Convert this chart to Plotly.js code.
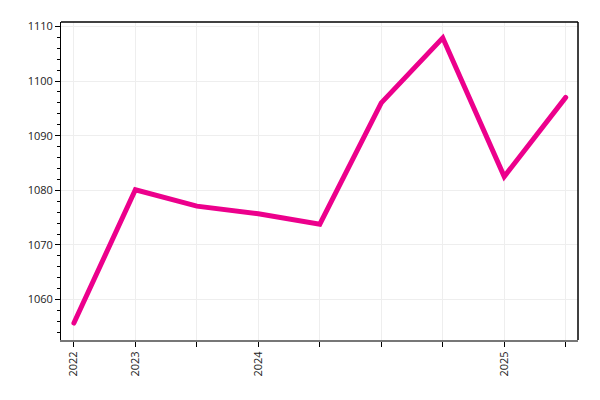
<!DOCTYPE html>
<html lang="en">
<head>
    <meta charset="UTF-8">
    <title>Line chart</title>
    <script src="https://cdn.plot.ly/plotly-3.0.1.min.js"></script>
    <style>
        body { margin: 0; background: #fff; }
        #chart { width: 600px; height: 400px; }
        /* round ends on the line like the reference */
        #chart .js-line { stroke-linecap: round; }
    </style>
</head>
<body>
<div id="chart"></div>
<script>
    // Data
    var xIndex = [0, 1, 2, 3, 4, 5, 6, 7, 8];
    var values = [1055.7, 1080.1, 1077.1, 1075.7, 1073.8, 1096.0, 1107.9, 1082.5, 1097.0];
    var tickLabels = ['2022', '2023', '', '2024', '', '', '', '2025', ''];

    var trace = {
        type: 'scatter',
        mode: 'lines',
        x: xIndex,
        y: values,
        line: { color: '#EC008C', width: 5 },
        hoverinfo: 'y'
    };

    var layout = {
        width: 600,
        height: 400,
        margin: { l: 61, r: 22, t: 22, b: 60 },
        paper_bgcolor: '#fff',
        plot_bgcolor: '#fff',
        showlegend: false,
        font: { family: 'Open Sans, sans-serif', size: 11, color: '#222' },
        xaxis: {
            range: [-0.21, 8.2],
            tickvals: xIndex,
            ticktext: tickLabels,
            tickangle: -90,
            ticks: 'outside',
            ticklen: 5,
            tickcolor: '#000',
            showline: true,
            linecolor: '#777',
            linewidth: 2,
            showgrid: true,
            gridcolor: '#eeeeee',
            zeroline: false
        },
        yaxis: {
            range: [1052.6, 1110.8],
            dtick: 10,
            ticks: 'outside',
            ticklen: 5,
            tickcolor: '#000',
            showline: true,
            linecolor: '#000',
            linewidth: 1,
            showgrid: true,
            gridcolor: '#eeeeee',
            zeroline: false,
            minor: { dtick: 2, ticks: 'outside', ticklen: 3, tickcolor: '#000', showgrid: false }
        },
        // black frame on top and right
        shapes: [
            { type: 'line', xref: 'paper', yref: 'paper', x0: 0, x1: 1, y0: 1, y1: 1, line: { color: '#000', width: 1.5 } },
            { type: 'line', xref: 'paper', yref: 'paper', x0: 1, x1: 1, y0: 0, y1: 1, line: { color: '#000', width: 1.5 } }
        ]
    };

    Plotly.newPlot('chart', [trace], layout, { displayModeBar: false, staticPlot: true });
</script>
</body>
</html>
